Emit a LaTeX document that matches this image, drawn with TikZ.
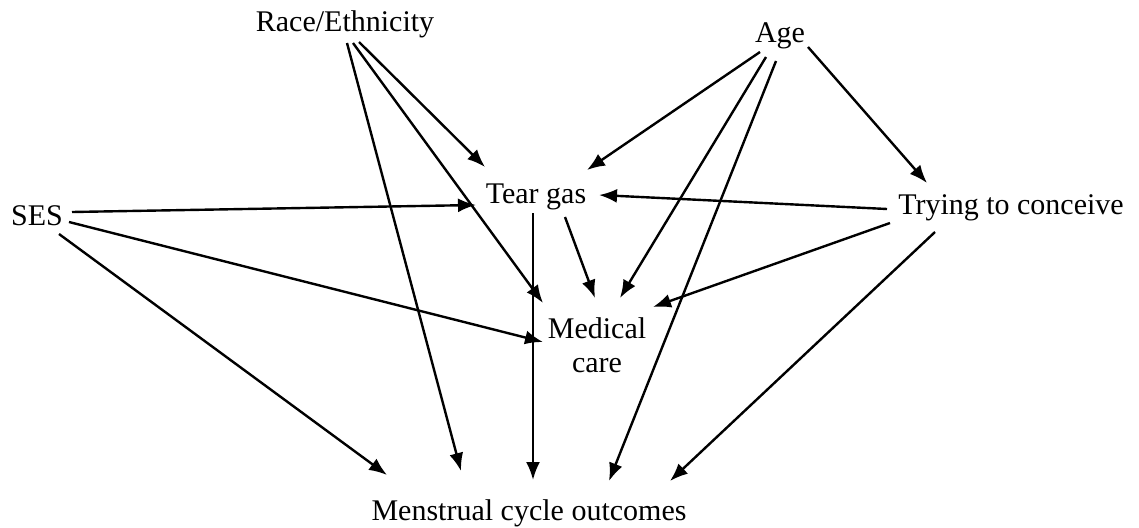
\documentclass[tikz,border=0pt]{standalone}
\usepackage{fontspec}
\setmainfont{Liberation Serif}
\usetikzlibrary{arrows.meta,calc}
\begin{document}
\begin{tikzpicture}[
  x=1pt, y=-1pt,
  var/.style={font=\fontsize{30}{34}\selectfont, inner sep=0pt, align=center},
  >={Latex[length=18pt,width=14pt]},
  link/.style={->, line width=2.4pt}
]
\useasboundingbox (0,0) rectangle (1139,527);
\node[var, anchor=base] (race) at (345,32) {Race/Ethnicity};
\node[var, anchor=base] (age) at (780,42) {Age};
\node[var, anchor=base] (ses) at (37,225) {SES};
\node[var, anchor=base] (tear) at (536,203) {Tear gas};
\node[var, anchor=base] (try) at (1011,214) {Trying to conceive};
\node[var] (med) at (597,345) {Medical\\care};
\node[var, anchor=base] (out) at (529,520) {Menstrual cycle outcomes};
% race/ethnicity
\draw[link] ($(race.base)+(14,10)$) -- ($(tear.base)+(-51,-36)$);
\draw[link] ($(race.base)+(8,11)$) -- ($(med)+(-54,-42)$);
\draw[link] ($(race.base)+(2,11)$) -- ($(out.base)+(-68,-49)$);
% age
\draw[link] ($(age.base)+(-20,10)$) -- ($(tear.base)+(51,-33)$);
\draw[link] ($(age.base)+(-14,15)$) -- ($(med)+(23,-47)$);
\draw[link] ($(age.base)+(-4,19)$) -- ($(out.base)+(80,-39)$);
\draw[link] ($(age.base)+(28,5)$) -- ($(try.base)+(-84,-31)$);
% SES
\draw[link] ($(ses.base)+(35,-13)$) -- ($(tear.base)+(-60,2)$);
\draw[link] ($(ses.base)+(32,-3)$) -- ($(med)+(-54,-3)$);
\draw[link] ($(ses.base)+(22,9)$) -- ($(out.base)+(-142,-45)$);
% tear gas
\draw[link] ($(tear.base)+(-3,10)$) -- ($(out.base)+(4,-40)$);
\draw[link] ($(tear.base)+(29,14)$) -- ($(med)+(-2,-47)$);
% trying to conceive
\draw[link] ($(try.base)+(-124,-5)$) -- ($(tear.base)+(63,-8)$);
\draw[link] ($(try.base)+(-121,9)$) -- ($(med)+(56,-38)$);
\draw[link] ($(try.base)+(-76,18)$) -- ($(out.base)+(141,-39)$);
\end{tikzpicture}
\end{document}
